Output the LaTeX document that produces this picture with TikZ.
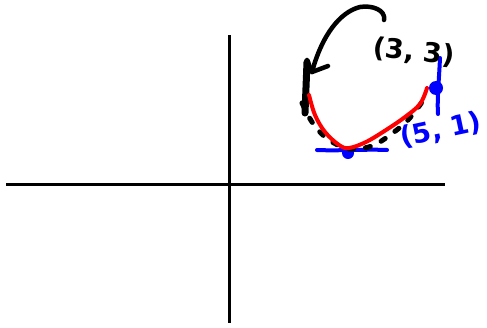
\documentclass[tikz,border=0pt]{standalone}
\usepackage{fontspec}
\setmainfont{DejaVu Sans}
\begin{document}
\begin{tikzpicture}[x=1pt,y=-1pt,
  axis/.style={line width=3pt,black},
  ink/.style={line width=5pt,line cap=round,line join=round},
  redink/.style={line width=4pt,red,line cap=round,line join=round},
  blueink/.style={line width=4pt,blue,line cap=round,line join=round},
  dotsline/.style={line width=5pt,black,line cap=round,dash pattern=on 5pt off 12pt},
  lbl/.style={inner sep=0pt,font=\fontsize{27}{27}\selectfont\bfseries}]
\useasboundingbox[fill=white] (0,0) rectangle (487,327);
% axes
\coordinate (xl) at (6,184); \coordinate (xr) at (445,184);
\coordinate (yt) at (229,35); \coordinate (yb) at (229,323);
\draw[axis] (xl) -- (xr);
\draw[axis] (yt) -- (yb);
% blue marks
\coordinate (hl) at (317,150); \coordinate (hr) at (387,150);
\draw[blueink] (hl) .. controls (340,151) and (365,149) .. (hr);
\coordinate (vt) at (440,58); \coordinate (vb) at (438,114);
\draw[blueink] (vt) .. controls (439,80) and (437,100) .. (vb);
\fill[blue] (348,153) circle (6pt);
\fill[blue] (436,88) circle (7pt);
% black vertical bar
\draw[ink,line width=7pt] (307,62) -- (305,113);
% dashed curve
\draw[dotsline] plot[smooth,tension=0.6] coordinates {(302,103) (312,122) (325,137) (340,146) (352,149) (372,146) (390,135) (408,120) (425,98)};
% red curve
\draw[redink] plot[smooth,tension=0.6] coordinates {(309,95) (315,115) (325,132) (339,145) (349,148) (366,142) (386,130) (405,117) (420,104) (427,88)};
% black arrow
\coordinate (as) at (384,20);
\coordinate (at) at (312,72);
\draw[ink,line width=4.5pt] (as) .. controls (386,10) and (372,5) .. (360,7)
  .. controls (340,12) and (322,35) .. (at);
\draw[ink,line width=4.5pt] (307,60) -- (at) -- (328,66);
% labels
\node[lbl,rotate=-6] (p33) at (414,52) {(3, 3)};
\node[lbl,text=blue,rotate=12] (p51) at (441,130) {(5, 1)};
\end{tikzpicture}
\end{document}
